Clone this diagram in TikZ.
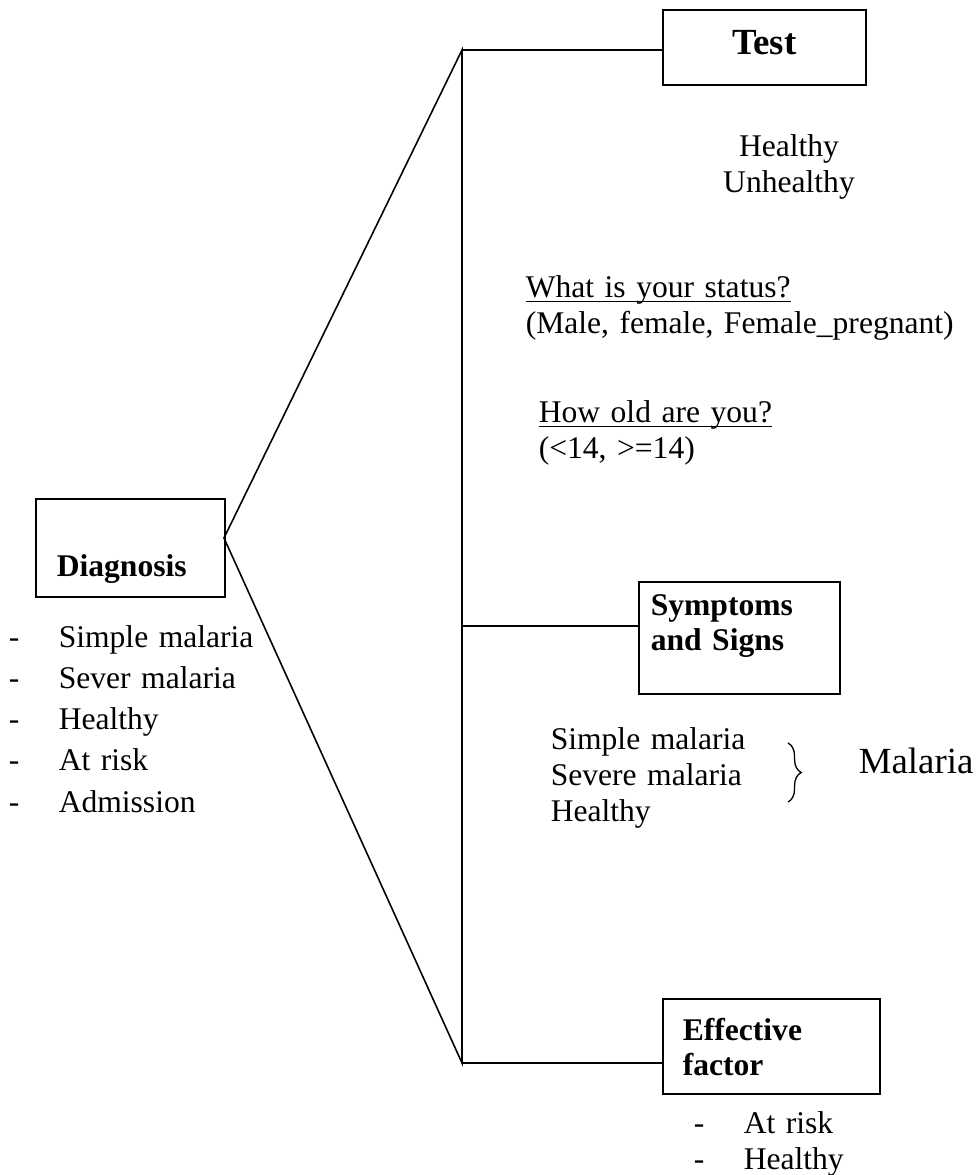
\documentclass[tikz,border=0pt]{standalone}
\usepackage{fontspec}
\setmainfont{Liberation Serif}
\usetikzlibrary{decorations.pathreplacing}
\def\dashitem#1{-\hspace{15pt}#1}
\def\uln#1{\setbox0\hbox{#1}\rlap{\rule[-1.9pt]{\wd0}{0.5pt}}\box0}
\tikzset{
  box/.style={draw, line width=0.6pt, inner ysep=0pt, align=left, font=\fontsize{12}{13.3}\selectfont\bfseries},
  txt/.style={inner sep=0pt, align=left, anchor=base west, text width=180pt, font=\fontsize{12}{13.8}\selectfont},
}

\begin{document}
\begin{tikzpicture}[x=0.38pt, y=-0.38pt, line width=0.6pt]
	%%%%% START %%%%%
	\useasboundingbox (0,0) rectangle (979,1175);
	
	% boxes
	\node[box, anchor=north west, text width=55.86pt, inner xsep=7.98pt, text height=29.64pt, text depth=7.6pt] (diag) at (35,498) {Diagnosis};
	\node[box, anchor=north west, align=center, text width=61.18pt, inner xsep=7.98pt, text height=17.1pt, text depth=11.4pt, font=\fontsize{14}{16}\selectfont\bfseries] (test) at (662,9) {Test};
	\node[box, anchor=north west, text width=67.26pt, inner xsep=4.56pt, text height=12.92pt, text depth=29.64pt] (sym) at (638,581) {Symptoms\\and Signs};
	\node[box, anchor=north west, text width=67.26pt, inner xsep=7.6pt, text height=15.96pt, text depth=20.14pt] (eff) at (662,998) {Effective\\factor};
	
	% tree
	\coordinate (dj) at (224,538);
	\coordinate (top) at (462,50);
	\coordinate (mid) at (462,626);
	\coordinate (bot) at (462,1063);
	\draw (dj) -- (top) -- (bot) -- cycle;
	\draw (top) -- (top -| test.west);
	\draw (mid) -- (mid -| sym.west);
	\draw (bot) -- (bot -| eff.west);
	
	% texts
	\node[txt, anchor=base, align=center, text width=80pt] (testres) at (789,156) {Healthy\\Unhealthy};
	\node[txt] (status) at (525,297) {\uln{What is your status?}\\(Male, female, Female\_pregnant)};
	\node[txt] (age) at (538,422) {\uln{How old are you?}\\(<14, >=14)};
	\node[txt] (symres) at (550,749) {Simple malaria\\Severe malaria\\Healthy};
	\coordinate (br1) at (788,743);
	\coordinate (br2) at (788,802);
	\draw[decorate, decoration={brace, amplitude=5pt}, line width=0.5pt] (br1) -- (br2);
	\node[txt, font=\fontsize{14}{16}\selectfont] (mal) at (858,773) {Malaria};
	
	\node[txt, font=\fontsize{12}{15.7}\selectfont] (diaglist) at (8,647) {\dashitem{Simple malaria}\\\dashitem{Sever malaria}\\\dashitem{Healthy}\\\dashitem{At risk}\\\dashitem{Admission}};
	\node[txt] (efflist) at (693,1133) {\dashitem{At risk}\\\dashitem{Healthy}};
	
	%%%%% END %%%%%
\end{tikzpicture}
\end{document}
